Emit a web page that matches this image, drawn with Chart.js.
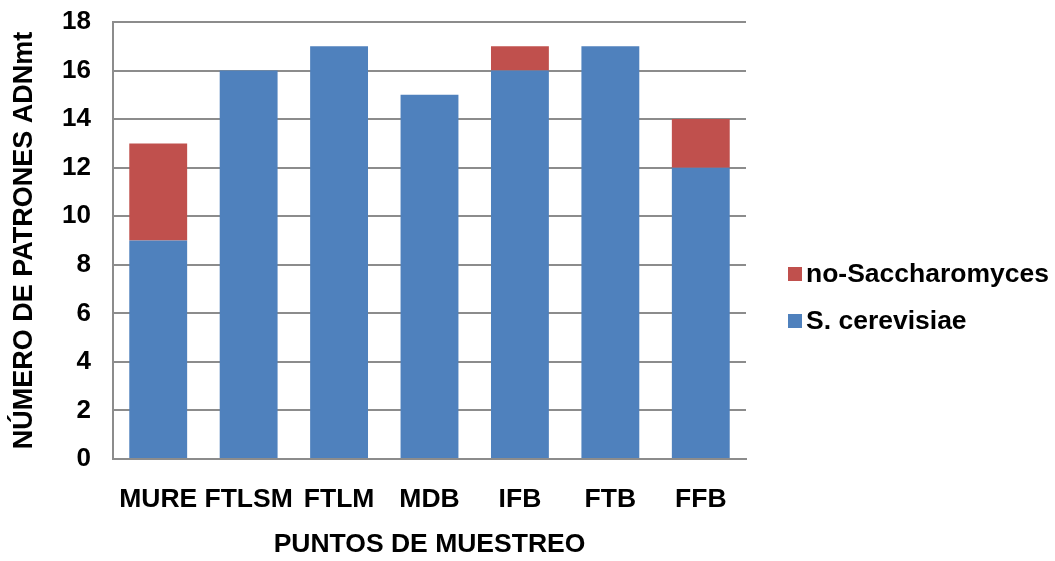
<!DOCTYPE html>
<html>
<head>
<meta charset="utf-8">
<script src="https://cdn.jsdelivr.net/npm/chart.js@4.4.1/dist/chart.umd.min.js"></script>
<style>
  html, body { margin: 0; padding: 0; background: #ffffff; }
  #wrap { width: 1055px; height: 561px; position: relative; }
</style>
</head>
<body>
<div id="wrap"><canvas id="chart" width="1055" height="561"></canvas></div>
<script>
// Sampling points and counts of mtDNA patterns per group
const categories = ['MURE', 'FTLSM', 'FTLM', 'MDB', 'IFB', 'FTB', 'FFB'];
const cerevisiae = [9, 16, 17, 15, 16, 17, 12];
const noSaccharomyces = [4, 0, 0, 0, 1, 0, 2];
const yTicks = [0, 2, 4, 6, 8, 10, 12, 14, 16, 18];

const seriesNames = ['S. cerevisiae', 'no-Saccharomyces'];
const seriesColors = ['#4F81BD', '#C0504D'];

const FONT = '"Liberation Sans", Arial, Helvetica, sans-serif';

// Legend drawn on the right, reversed so the top stack segment is listed first
const sideLegend = {
  id: 'sideLegend',
  afterDraw(chart) {
    const ctx = chart.ctx;
    const rows = [
      { name: seriesNames[1], color: seriesColors[1], y: 274 },
      { name: seriesNames[0], color: seriesColors[0], y: 321 }
    ];
    ctx.save();
    ctx.font = 'bold 26.5px ' + FONT;
    ctx.textBaseline = 'middle';
    ctx.textAlign = 'left';
    rows.forEach(r => {
      ctx.fillStyle = r.color;
      ctx.fillRect(788, r.y - 7, 14, 14);
      ctx.fillStyle = '#000000';
      ctx.fillText(r.name, 806, r.y + 1);
    });
    ctx.restore();
  }
};

new Chart(document.getElementById('chart'), {
  type: 'bar',
  data: {
    labels: categories,
    datasets: [
      { label: seriesNames[0], data: cerevisiae, backgroundColor: seriesColors[0], borderWidth: 0 },
      { label: seriesNames[1], data: noSaccharomyces, backgroundColor: seriesColors[1], borderWidth: 0 }
    ]
  },
  options: {
    responsive: false,
    animation: false,
    devicePixelRatio: 1,
    layout: { padding: { left: 0, right: 309, top: 22, bottom: 0 } },
    datasets: { bar: { categoryPercentage: 1.0, barPercentage: 0.64 } },
    plugins: {
      legend: { display: false },
      tooltip: { enabled: false }
    },
    scales: {
      x: {
        stacked: true,
        grid: { display: false, drawTicks: false },
        border: { display: true, color: '#8c8c8c', width: 2 },
        ticks: {
          color: '#000000',
          font: { family: FONT, size: 26.5, weight: 'bold' },
          padding: 25,
          maxRotation: 0,
          autoSkip: false
        },
        title: {
          display: true,
          text: 'PUNTOS DE MUESTREO',
          color: '#000000',
          font: { family: FONT, size: 26.5, weight: 'bold' },
          padding: { top: 17, bottom: 0 }
        },
        afterFit(scale) {
          scale.height = 102;
          scale.paddingLeft = 0;
          scale.paddingRight = 0;
        }
      },
      y: {
        stacked: true,
        min: 0,
        max: 18,
        afterBuildTicks(scale) { scale.ticks = yTicks.map(v => ({ value: v })); },
        grid: { color: '#8c8c8c', lineWidth: 2, drawTicks: false },
        border: { display: true, color: '#8c8c8c', width: 2 },
        ticks: {
          color: '#000000',
          font: { family: FONT, size: 26, weight: 'bold' },
          padding: 22
        },
        title: {
          display: true,
          text: 'NÚMERO DE PATRONES ADNmt',
          color: '#000000',
          font: { family: FONT, size: 27, weight: 'bold' },
          padding: { top: 8, bottom: 0 }
        },
        afterFit(scale) {
          scale.width = 113;
          scale.paddingTop = 0;
          scale.paddingBottom = 0;
        }
      }
    }
  },
  plugins: [sideLegend]
});
</script>
</body>
</html>
